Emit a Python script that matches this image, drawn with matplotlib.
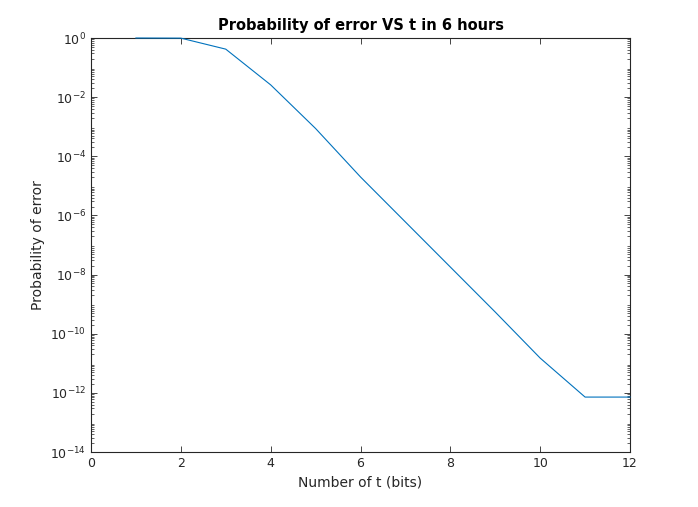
import numpy as np
import matplotlib.pyplot as plt
from matplotlib.ticker import LogLocator, NullFormatter

# number of t (bits) and probability of error
t_bits = [1, 2, 3, 4, 5, 6, 7, 8, 9, 10, 11, 12]
p_error = [1.0, 0.99, 0.42, 2.6e-2, 8.7e-4, 2.0e-5, 6.0e-7, 1.8e-8,
           5.4e-10, 1.5e-11, 7.2e-13, 7.2e-13]

fig = plt.figure(figsize=(6.98, 5.07), dpi=100)
ax = fig.add_axes([91 / 698, 1 - 452 / 507, (630 - 91) / 698, (452 - 38) / 507])

ax.semilogy(t_bits, p_error, color='#0072BD', linewidth=0.8, clip_on=False, zorder=5)

ax.set_xlim(0, 12)
ax.set_ylim(1e-14, 1e0)
ax.set_xticks(range(0, 13, 2))
ax.set_yticks([10.0 ** k for k in range(-14, 1, 2)])
ax.yaxis.set_minor_locator(LogLocator(base=10, subs=np.arange(2, 10), numticks=40))
ax.yaxis.set_minor_formatter(NullFormatter())

ax.tick_params(which='both', direction='in', top=True, right=True,
               labelsize=9, colors='#262626')
ax.tick_params(which='major', length=4, width=0.6)
ax.tick_params(which='minor', length=2, width=0.5)
for s in ax.spines.values():
    s.set_linewidth(0.8)
    s.set_color('#262626')

ax.set_title('Probability of error VS t in 6 hours', fontsize=10.5, fontweight='bold')
ax.set_xlabel('Number of t (bits)', fontsize=10, color='#262626')
ax.set_ylabel('Probability of error', fontsize=10, color='#262626')

plt.savefig('out.png', dpi=100)
